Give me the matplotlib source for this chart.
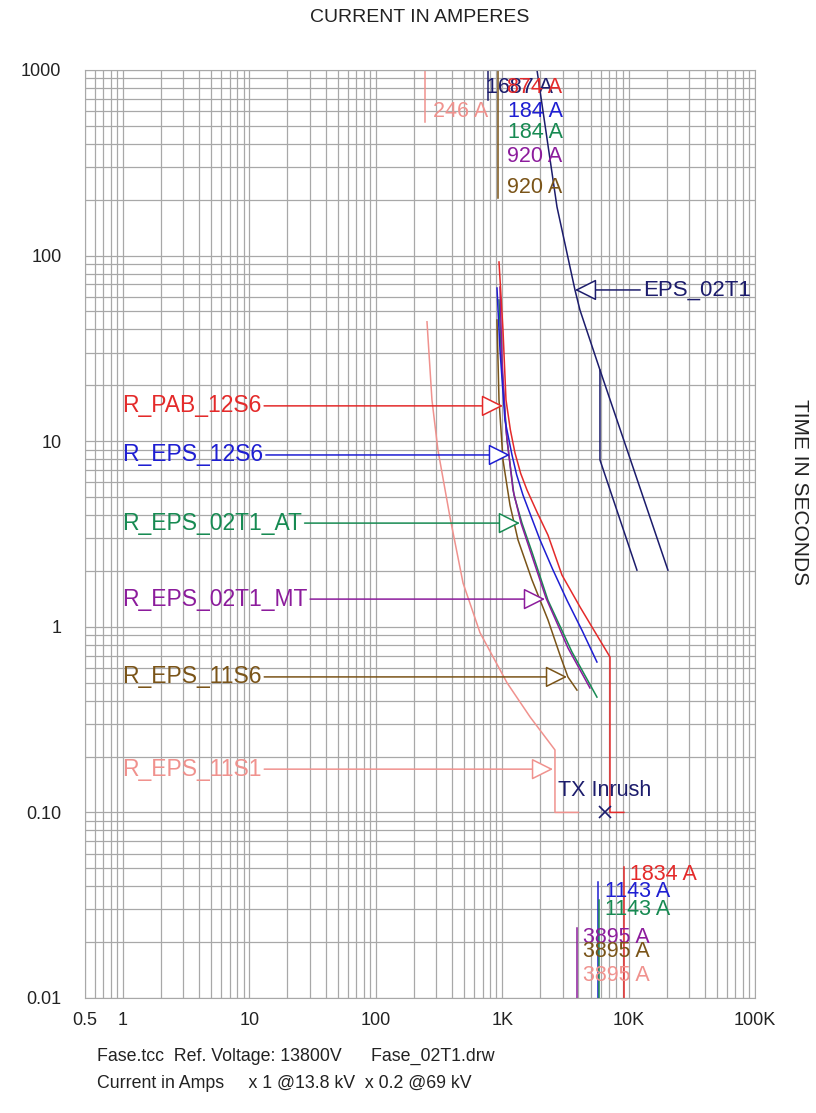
import matplotlib
matplotlib.use("Agg")
import matplotlib.pyplot as plt
from matplotlib.ticker import FixedLocator, LogLocator, NullFormatter

plt.rcParams['font.family'] = ['Liberation Sans', 'DejaVu Sans']

# colours of the devices
c_red = '#e42a2a'
c_blue = '#1e1ed2'
c_green = '#178a52'
c_purple = '#8c1c9c'
c_brown = '#7a5418'
c_pink = '#f0928e'
c_navy = '#1c1c6c'

# relay curves (amps, seconds)
pab_I = [943, 1014, 1071, 1160, 1262, 1400, 1570, 1900, 2301, 2970, 4123, 5417, 7120, 7120, 9170]
pab_t = [92.4, 39.7, 16.7, 11.5, 8.64, 6.7, 5.46, 4.1, 3.12, 1.90, 1.28, 0.938, 0.688, 0.1, 0.1]

eps12_I = [909, 960, 1051, 1195, 1300, 1459, 1700, 1990, 2500, 3254, 4300, 5617]
eps12_t = [66.9, 31.0, 13.0, 8.43, 6.6, 5.13, 3.9, 2.94, 2.05, 1.39, 0.95, 0.646]

mt_I = [960, 996, 1071, 1217, 1408, 1658, 2220, 3313, 4946]
mt_t = [67.7, 27.4, 11.5, 5.46, 3.62, 2.59, 1.43, 0.769, 0.468]

at_I = [943, 996, 1090, 1239, 1433, 1719, 2301, 3563, 5617]
at_t = [57.7, 24.2, 10.2, 5.13, 3.62, 2.53, 1.39, 0.732, 0.418]

s11_I = [909, 943, 1014, 1152, 1333, 1719, 2301, 2863, 3313, 3903]
s11_t = [45.0, 16.7, 7.92, 4.53, 2.94, 1.79, 1.09, 0.705, 0.536, 0.456]

s1_I = [254, 278, 310, 386, 490, 667, 1090, 1660, 2614, 2614, 4000]
s1_t = [44, 16.7, 8.97, 3.9, 1.72, 0.93, 0.50, 0.327, 0.217, 0.1, 0.1]

# transformer damage curve
tx_I = [1884, 2712, 3764, 4121, 5934, 20470]
tx_t = [1000, 183, 65.3, 50.9, 24.2, 2.02]
tx2_I = [5934, 5934, 11640]
tx2_t = [24.2, 7.93, 2.02]
inrush_I = 6500
inrush_t = 0.1

# arrow labels: name, colour, tip x, y
arrow_names = ['R_PAB_12S6', 'R_EPS_12S6', 'R_EPS_02T1_AT', 'R_EPS_02T1_MT', 'R_EPS_11S6', 'R_EPS_11S1']
arrow_cols = [c_red, c_blue, c_green, c_purple, c_brown, c_pink]
arrow_tip = [1014, 1151, 1380, 2178, 3254, 2522]
arrow_y = [15.5, 8.43, 3.62, 1.41, 0.537, 0.171]
arrow_x0 = 0.98

# pickup markers: current, top, bottom
vlines = [(246, 1000, 525, c_pink), (920, 1000, 204, c_brown), (771, 1000, 690, c_navy),
          (9170, 0.0508, 0.01, c_red), (5715, 0.042, 0.01, c_blue), (5800, 0.0337, 0.01, c_green),
          (3895, 0.0238, 0.01, c_purple)]

# current labels: text, x, y, colour
amp_labels = [('1687 A', 744, 800, c_navy), ('874 A', 1090, 800, c_red),
              ('246 A', 283, 594, c_pink), ('184 A', 1110, 594, c_blue),
              ('184 A', 1110, 458, c_green), ('920 A', 1090, 340, c_purple),
              ('920 A', 1090, 234, c_brown),
              ('1834 A', 10250, 0.046, c_red), ('1143 A', 6500, 0.0377, c_blue),
              ('1143 A', 6500, 0.0298, c_green), ('3895 A', 4354, 0.0213, c_purple),
              ('3895 A', 4354, 0.0177, c_brown), ('3895 A', 4354, 0.01315, c_pink)]

xticks = [0.5, 1, 10, 100, 1e3, 1e4, 1e5]
xlabels = ['0.5', '1', '10', '100', '1K', '10K', '100K']
yticks = [0.01, 0.1, 1, 10, 100, 1000]
ylabels = ['0.01', '0.10', '1', '10', '100', '1000']

fig = plt.figure(figsize=(8.16, 11.13), dpi=100)
ax = fig.add_axes([85 / 816, 1 - 998 / 1113, 670 / 816, 928 / 1113])
ax.set_xscale('log')
ax.set_yscale('log')
ax.set_xlim(0.5, 1e5)
ax.set_ylim(0.01, 1000)

ax.xaxis.set_major_locator(FixedLocator(xticks))
ax.set_xticklabels(xlabels)
ax.yaxis.set_major_locator(FixedLocator(yticks))
ax.set_yticklabels(ylabels)
ax.xaxis.set_minor_locator(LogLocator(base=10, subs=range(2, 10), numticks=20))
ax.yaxis.set_minor_locator(LogLocator(base=10, subs=range(2, 10), numticks=20))
ax.xaxis.set_minor_formatter(NullFormatter())
ax.yaxis.set_minor_formatter(NullFormatter())
ax.tick_params(which='both', length=0, labelsize=13, colors='#222222')
ax.tick_params(axis='x', pad=10)
ax.tick_params(axis='y', pad=17)
ax.grid(True, which='both', color='#a8a8a8', lw=0.9)
ax.set_axisbelow(True)
for s in ax.spines.values():
    s.set_color('#a8a8a8')

lw = 1.1
ax.plot(s1_I, s1_t, color=c_pink, lw=lw)
ax.plot(s11_I, s11_t, color=c_brown, lw=lw)
ax.plot(at_I, at_t, color=c_green, lw=lw)
ax.plot(mt_I, mt_t, color=c_purple, lw=lw)
ax.plot(eps12_I, eps12_t, color=c_blue, lw=lw)
ax.plot(pab_I, pab_t, color=c_red, lw=lw)
ax.plot(tx_I, tx_t, color=c_navy, lw=lw)
ax.plot(tx2_I, tx2_t, color=c_navy, lw=lw)
ax.plot([inrush_I], [inrush_t], marker='x', color=c_navy, ms=8, mew=1.2)
ax.text(inrush_I, 0.132, 'TX Inrush', color=c_navy, fontsize=15.5, ha='center', va='center')

for I, top, bot, col in vlines:
    ax.plot([I, I], [bot, top], color=col, lw=lw)

for txt, x, y, col in amp_labels:
    ax.text(x, y, txt, color=col, fontsize=15.5, ha='left', va='center')

arrow_style = '-|>,head_length=0.9,head_width=0.45'
for name, col, tip, y in zip(arrow_names, arrow_cols, arrow_tip, arrow_y):
    ax.annotate(name, xy=(tip, y), xytext=(arrow_x0, y), color=col, fontsize=16.5,
                ha='left', va='center',
                arrowprops=dict(arrowstyle=arrow_style, fc='white', ec=col, lw=1.1,
                                shrinkA=0, shrinkB=0, mutation_scale=15))

ax.annotate('EPS_02T1', xy=(3764, 65.3), xytext=(13000, 65.3), color=c_navy, fontsize=16,
            ha='left', va='center',
            arrowprops=dict(arrowstyle=arrow_style, fc='white', ec=c_navy, lw=1.1,
                            shrinkA=0, shrinkB=0, mutation_scale=15))

fig.text(420 / 816, 1 - 18 / 1113, 'CURRENT IN AMPERES', ha='center', va='center',
         fontsize=14, color='#222222')
fig.text(800 / 816, 1 - 492 / 1113, 'TIME IN SECONDS', ha='center', va='center',
         rotation=270, fontsize=15, color='#222222')
fig.text(97 / 816, 1 - 1056 / 1113, 'Fase.tcc  Ref. Voltage: 13800V      Fase_02T1.drw',
         ha='left', va='center', fontsize=12.8, color='#222222')
fig.text(97 / 816, 1 - 1083 / 1113, 'Current in Amps     x 1 @13.8 kV  x 0.2 @69 kV',
         ha='left', va='center', fontsize=12.8, color='#222222')

fig.savefig('out.png', dpi=100, facecolor='white')
